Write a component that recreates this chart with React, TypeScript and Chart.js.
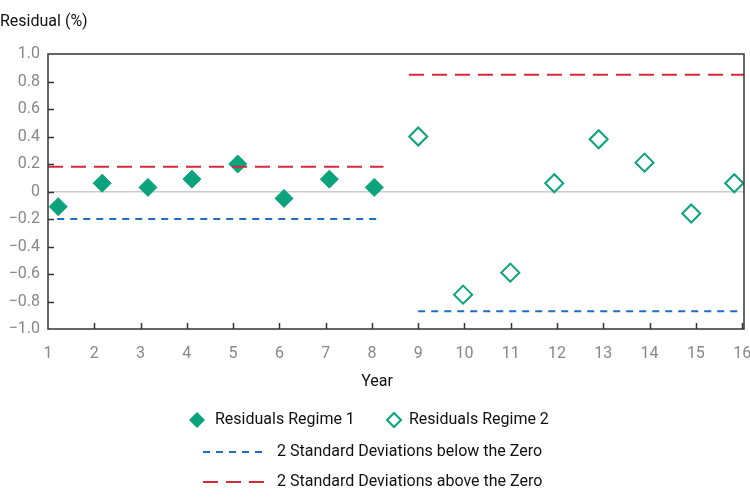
import React, { useEffect, useRef } from "react";
import { Chart, registerables } from "chart.js";

Chart.register(...registerables);

const regime1X = [1.22, 2.17, 3.16, 4.11, 5.1, 6.1, 7.08, 8.05];
const regime1Y = [-0.11, 0.06, 0.03, 0.09, 0.2, -0.05, 0.09, 0.03];
const regime2X = [9.0, 9.97, 10.99, 11.94, 12.9, 13.89, 14.9, 15.83];
const regime2Y = [0.4, -0.75, -0.59, 0.06, 0.38, 0.21, -0.16, 0.06];
const upper1X = [1.0, 8.25];
const upper1Y = [0.18, 0.18];
const lower1X = [1.2, 8.2];
const lower1Y = [-0.2, -0.2];
const upper2X = [8.8, 16.05];
const upper2Y = [0.85, 0.85];
const lower2X = [9.0, 16.0];
const lower2Y = [-0.87, -0.87];
const xTickLabels = ["1", "2", "3", "4", "5", "6", "7", "8", "9", "10", "11", "12", "13", "14", "15", "16"];

const legendLabels = [
  "Residuals Regime 1",
  "Residuals Regime 2",
  "2 Standard Deviations below the Zero",
  "2 Standard Deviations above the Zero",
];
const yTitle = "Residual (%)";
const xTitle = "Year";

const GREEN = "#0aa37c";
const RED = "#d52a3a";
const BLUE = "#1f6ebf";
const FONT = "Roboto, 'Noto Sans', sans-serif";

const pts = (xs: number[], ys: number[]) => xs.map((x, i) => ({ x, y: ys[i] }));

export default function App() {
  const ref = useRef<HTMLCanvasElement | null>(null);
  useEffect(() => {
    document.body.style.margin = "0";
    const canvas = ref.current!;
    const extras = {
      id: "extras",
      afterDraw(chart: any) {
        const ctx = chart.ctx;
        const a = chart.chartArea;
        const xs = chart.scales.x;
        const ys = chart.scales.y;
        ctx.save();
        ctx.strokeStyle = "#333";
        ctx.lineWidth = 1.5;
        ctx.strokeRect(a.left, a.top, a.right - a.left, a.bottom - a.top);
        ctx.beginPath();
        for (let v = 2; v <= 16; v++) {
          const px = Math.round(xs.getPixelForValue(v)) + 0.5;
          ctx.moveTo(px, a.bottom);
          ctx.lineTo(px, a.bottom - 6);
        }
        for (let k = -4; k <= 4; k++) {
          const py = Math.round(ys.getPixelForValue(k / 5)) + 0.5;
          ctx.moveTo(a.left, py);
          ctx.lineTo(a.left + 6, py);
        }
        ctx.stroke();
        ctx.font = `16px ${FONT}`;
        ctx.textBaseline = "middle";
        ctx.textAlign = "center";
        ctx.fillStyle = "#888";
        xTickLabels.forEach((t, i) => {
          ctx.fillText(t, xs.getPixelForValue(i + 1), a.bottom + 25);
        });
        ctx.fillStyle = "#111";
        ctx.textAlign = "left";
        ctx.fillText(yTitle, 0, 22);
        ctx.textAlign = "center";
        ctx.fillText(xTitle, 377, 382);
        ctx.textAlign = "left";
        const diamond = (cx: number, cy: number, r: number, fill: boolean) => {
          ctx.beginPath();
          ctx.moveTo(cx, cy - r);
          ctx.lineTo(cx + r, cy);
          ctx.lineTo(cx, cy + r);
          ctx.lineTo(cx - r, cy);
          ctx.closePath();
          if (fill) {
            ctx.fillStyle = GREEN;
            ctx.fill();
          } else {
            ctx.strokeStyle = GREEN;
            ctx.lineWidth = 2;
            ctx.stroke();
          }
        };
        diamond(197, 420, 8, true);
        ctx.fillStyle = "#111";
        ctx.fillText(legendLabels[0], 215, 420);
        diamond(394, 420, 7, false);
        ctx.fillStyle = "#111";
        ctx.fillText(legendLabels[1], 409, 420);
        ctx.lineWidth = 2;
        ctx.strokeStyle = BLUE;
        ctx.setLineDash([7, 6]);
        ctx.beginPath();
        ctx.moveTo(203, 452);
        ctx.lineTo(264, 452);
        ctx.stroke();
        ctx.strokeStyle = RED;
        ctx.setLineDash([15, 8]);
        ctx.beginPath();
        ctx.moveTo(203, 482);
        ctx.lineTo(264, 482);
        ctx.stroke();
        ctx.setLineDash([]);
        ctx.fillText(legendLabels[2], 277, 452);
        ctx.fillText(legendLabels[3], 277, 482);
        ctx.restore();
      },
    };
    const lineDs = (data: any, color: string, dash: number[]) => ({
      type: "line" as const,
      data,
      borderColor: color,
      borderWidth: 2,
      borderDash: dash,
      pointRadius: 0,
      fill: false,
      showLine: true,
    });
    const chart = new Chart(canvas, {
      type: "scatter",
      data: {
        datasets: [
          lineDs(pts(upper1X, upper1Y), RED, [15, 8]),
          lineDs(pts(lower1X, lower1Y), BLUE, [7, 6]),
          lineDs(pts(upper2X, upper2Y), RED, [15, 8]),
          lineDs(pts(lower2X, lower2Y), BLUE, [7, 6]),
          {
            label: legendLabels[0],
            data: pts(regime1X, regime1Y),
            pointStyle: "rectRot",
            pointRadius: 9,
            backgroundColor: GREEN,
            borderColor: GREEN,
            borderWidth: 1,
          },
          {
            label: legendLabels[1],
            data: pts(regime2X, regime2Y),
            pointStyle: "rectRot",
            pointRadius: 9,
            backgroundColor: "#fff",
            borderColor: GREEN,
            borderWidth: 2,
          },
        ] as any,
      },
      options: {
        animation: false,
        responsive: false,
        maintainAspectRatio: false,
        layout: { autoPadding: false, padding: { top: 54, right: 6, left: 0, bottom: 0 } },
        plugins: { legend: { display: false }, tooltip: { enabled: false } },
        scales: {
          x: {
            type: "linear",
            min: 1,
            max: 16.04,
            afterFit: (s: any) => {
              s.height = 175;
            },
            ticks: { display: false },
            grid: { display: false, drawTicks: false },
            border: { display: false },
          },
          y: {
            min: -1,
            max: 1,
            afterFit: (s: any) => {
              s.width = 48;
            },
            afterBuildTicks: (s: any) => {
              s.ticks = Array.from({ length: 11 }, (_, i) => ({ value: -1 + i * 0.2 }));
            },
            ticks: {
              color: "#888",
              font: { family: FONT, size: 16 },
              padding: 8,
              callback: (v: any) => {
                const n = Math.round(Number(v) * 10) / 10;
                if (n === 0) return "0";
                return (n < 0 ? "\u2212" : "") + Math.abs(n).toFixed(1);
              },
            },
            grid: {
              drawTicks: false,
              color: (c: any) => (Math.abs(c.tick?.value ?? 1) < 1e-9 ? "#cccccc" : "rgba(0,0,0,0)"),
              lineWidth: 1.5,
            },
            border: { display: false },
          },
        },
      },
      plugins: [extras],
    });
    return () => chart.destroy();
  }, []);
  return <canvas ref={ref} width={750} height={504} style={{ display: "block" }} />;
}
